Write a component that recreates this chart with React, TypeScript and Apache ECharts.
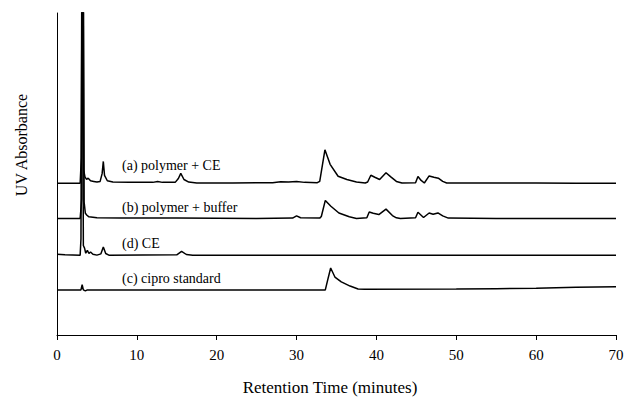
import React, { useEffect, useRef } from "react";
import * as echarts from "echarts";

// Retention time (minutes) vs UV absorbance (arbitrary units), raw signal above each trace's own baseline
const tracePolymerCE: [number, number][] = [
  [0, 0], [2.9, 0], [3.05, 8], [3.2, 120], [3.35, 4], [3.5, 2.0], [3.7, 1.2], [3.9, 1.6], [4.2, 0.8], [4.6, 0.6],
  [5.0, 0.4], [5.4, 0.6], [5.65, 3], [5.8, 6.8], [5.95, 2.5], [6.3, 0.8], [7, 0.4], [9, 0.3], [12, 0.3], [12.6, 0.6],
  [13.2, 0.3], [14.8, 0.3], [15.2, 1.5], [15.5, 3.1], [15.9, 1.2], [16.5, 0.4], [17.5, 0.1], [22, 0.1], [27, 0.2],
  [28.0, 0.5], [29.0, 0.4], [30.0, 0.6], [31.0, 0.3], [32.6, 0.2], [32.9, 0.6], [33.55, 10.4], [34.2, 5.9],
  [35.2, 2.2], [36.3, 1.2], [37.5, 0.4], [38.6, 0.1], [38.9, 0.4], [39.3, 2.5], [39.8, 1.9], [40.4, 1.2], [41.2, 3.3],
  [41.8, 2.0], [42.5, 0.6], [43.2, 0.1], [44.9, 0.2], [45.2, 2.1], [45.6, 0.9], [46.0, 0.1], [46.6, 2.3], [47.2, 1.9],
  [47.75, 1.6], [48.3, 0.6], [48.8, 0.1], [55, 0.1], [60, 0.1], [65, 0], [70, 0],
];
const tracePolymerBuffer: [number, number][] = [
  [0, 0], [2.9, 0], [3.1, 6], [3.25, 120], [3.4, 5], [3.55, 1.6], [3.75, 1.0], [4.0, 0.5], [4.5, 0.4], [5, 0.2],
  [8, 0.1], [15, 0.1], [25, 0], [29.5, 0.1], [30.0, 0.8], [30.5, 0.2], [32.9, 0.1], [33.1, 0.6], [33.6, 5.6],
  [34.3, 3.8], [35.3, 1.7], [36.6, 0.5], [37.5, 0], [38.8, 0.2], [39.1, 2.0], [39.6, 1.6], [40.3, 1.2], [41.2, 2.9],
  [42.0, 0.9], [42.5, 0.2], [43.0, 0], [44.9, 0.2], [45.2, 1.9], [45.9, 0.3], [46.6, 1.7], [47.1, 1.3], [47.7, 1.7],
  [48.3, 0.8], [49.0, 0.1], [55, 0], [70, 0],
];
const traceCE: [number, number][] = [
  [0, 0.3], [1, 0.1], [2.9, 0], [3.0, 5], [3.15, 120], [3.3, 3], [3.45, 2.2], [3.6, 0.6], [3.8, 1.5], [4.0, 0.5],
  [4.2, 1.0], [4.5, 0.3], [5.0, 0], [5.5, 0.4], [5.8, 2.5], [6.1, 0.5], [6.5, 0], [15.0, 0.1], [15.6, 1.2],
  [16.2, 0.2], [17, 0], [70, 0],
];
const traceCiproStd: [number, number][] = [
  [0, 0], [3.0, 0], [3.15, 1.6], [3.3, 0], [3.55, -0.3], [3.8, 0], [20, 0], [33.6, 0], [33.9, 3.1], [34.27, 6.8],
  [34.8, 4.0], [35.6, 2.5], [36.7, 1.2], [37.7, 0.3], [38.5, 0.2], [50, 0.3], [55, 0.4], [60, 0.5], [65, 0.8], [70, 1.0],
];

const traceNames = ["(a) polymer + CE", "(b) polymer + buffer", "(d) CE", "(c) cipro standard"];
const traceOffsets = [47.1, 36.2, 24.8, 14.0];
const xTicks = [0, 10, 20, 30, 40, 50, 60, 70];

const FONT = "Times New Roman, Liberation Serif, DejaVu Serif, serif";

export default function App() {
  const ref = useRef<HTMLDivElement>(null);
  useEffect(() => {
    if (!ref.current) return;
    const chart = echarts.init(ref.current, null, { renderer: "svg" });
    const traces = [tracePolymerCE, tracePolymerBuffer, traceCE, traceCiproStd];
    const labelY = [165.5, 207.5, 243.5, 278];
    chart.setOption({
      animation: false,
      backgroundColor: "#fff",
      textStyle: { fontFamily: FONT },
      grid: { left: 57, right: 12, top: 13, bottom: 71 },
      xAxis: {
        type: "value",
        min: xTicks[0],
        max: xTicks[xTicks.length - 1],
        interval: 10,
        axisLine: { lineStyle: { color: "#000", width: 1 } },
        axisTick: { show: true, length: 5, lineStyle: { color: "#000" } },
        axisLabel: { color: "#000", fontFamily: FONT, fontSize: 15, margin: 12 },
        splitLine: { show: false },
      },
      yAxis: {
        type: "value",
        min: 0,
        max: 100,
        axisLine: { show: true, lineStyle: { color: "#000", width: 1 } },
        axisTick: { show: false },
        axisLabel: { show: false },
        splitLine: { show: false },
      },
      series: traces.map((tr, i) => ({
        type: "line",
        name: traceNames[i],
        data: tr.map(([t, v]) => [t, v + traceOffsets[i]]),
        showSymbol: false,
        clip: true,
        lineStyle: { color: "#000", width: 1.5 },
      })),
      graphic: [
        ...traceNames.map((n, i) => ({
          type: "text",
          x: 122,
          y: labelY[i],
          style: { text: n, fill: "#000", fontFamily: FONT, fontSize: 14, verticalAlign: "middle" },
        })),
        {
          type: "text",
          x: 330,
          y: 387,
          style: { text: "Retention Time (minutes)", fill: "#000", fontFamily: FONT, fontSize: 17, align: "center", verticalAlign: "middle" },
        },
        {
          type: "text",
          x: 21,
          y: 145,
          rotation: Math.PI / 2,
          style: { text: "UV Absorbance", fill: "#000", fontFamily: FONT, fontSize: 16, align: "center", verticalAlign: "middle" },
        },
      ],
    });
    return () => chart.dispose();
  }, []);
  return <div ref={ref} style={{ width: 628, height: 406, position: "absolute", left: 0, top: 0 }} />;
}
